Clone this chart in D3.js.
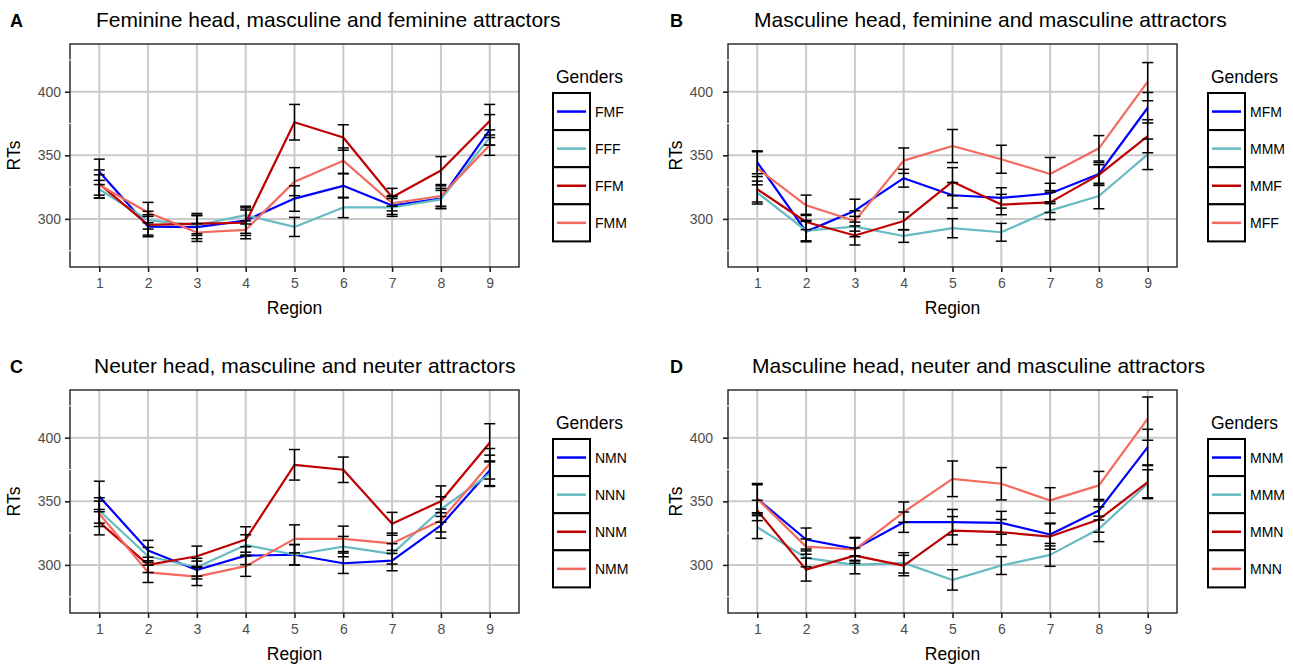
<!DOCTYPE html>
<html><head><meta charset="utf-8">
<script src="https://cdn.jsdelivr.net/npm/d3@7"></script>
<style>body{margin:0;background:#fff;} svg{font-family:"Liberation Sans",Arial,sans-serif;}</style>
</head><body><svg id="c" width="1293" height="665"></svg>
<script>
// ---------- data ----------
const regions = [1, 2, 3, 4, 5, 6, 7, 8, 9];
const yTicks = [300, 350, 400];
const yMinor = [275, 325, 375, 425];
const seriesColors = ["#0000FF", "#66BBC2", "#C00000", "#F4695E"];

// Panel A
const aTitle = "Feminine head, masculine and feminine attractors";
const aNames = ["FMF", "FFF", "FFM", "FMM"];
const aFMF = [337, 294, 293.5, 298.7, 316, 326, 310.5, 316, 370];
const aFFF = [323.3, 299, 295, 303, 293.7, 309, 309, 315.4, 364];
const aFFM = [327.5, 295.3, 296.3, 297, 376, 364, 317, 338, 377];
const aFMM = [326.7, 305, 289.3, 291.4, 329.3, 345.8, 312.3, 318, 358];
const aFMF_se = [10, 8, 9, 10, 10, 9.5, 7, 8, 12];
const aFFF_se = [7, 7, 8, 7, 7.5, 8, 7, 7, 6];
const aFFM_se = [11, 8, 8, 10, 14, 10, 7, 11, 13];
const aFMM_se = [8, 8, 7, 7, 11, 10, 6, 8, 8];

// Panel B
const bTitle = "Masculine head, feminine and masculine attractors";
const bNames = ["MFM", "MMM", "MMF", "MFF"];
const bMFM = [344.5, 290, 306.5, 332, 318.6, 316.5, 320, 335.3, 387.4];
const bMMM = [320.7, 290.8, 294, 286.6, 292.7, 289.5, 306.5, 318, 350.8];
const bMMF = [323.3, 297.6, 287, 298.4, 329.3, 311.3, 313, 334.6, 365];
const bMFF = [339.8, 310.7, 298.4, 345.8, 357.3, 346.9, 335.3, 355.5, 407.9];
const bMFM_se = [9, 8, 9, 7, 10, 8, 8, 9, 12];
const bMMM_se = [9, 8, 8, 5, 7.5, 7, 7, 10, 12];
const bMMF_se = [10, 6, 7.5, 7, 11, 8, 8, 8, 13];
const bMFF_se = [13, 8, 8, 10, 13, 11, 13, 10, 15];

// Panel C
const cTitle = "Neuter head, masculine and neuter attractors";
const cNames = ["NMN", "NNN", "NNM", "NMM"];
const cNMN = [353.8, 311.3, 296, 307.3, 308, 301.3, 303.4, 331, 374.3];
const cNNN = [342.8, 306.8, 298.2, 315.7, 308, 314.4, 308.7, 343.6, 371.7];
const cNNM = [333.6, 300, 306.8, 320, 378.7, 374.8, 332.3, 350.1, 396];
const cNMM = [340.2, 294.2, 290.8, 299, 320.5, 320.5, 317, 334.9, 379.5];
const cNMN_se = [12, 8, 7, 7, 8, 8, 8, 10, 12];
const cNNN_se = [10, 7, 7, 8, 8, 8, 8, 10, 10];
const cNNM_se = [10, 6, 8, 10, 12, 10, 9, 12, 15];
const cNMM_se = [10, 8, 7, 8, 11, 10, 8, 9, 12];

// Panel D
const dTitle = "Masculine head, neuter and masculine attractors";
const dNames = ["MNM", "MMM", "MMN", "MNN"];
const dMNM = [352, 320, 312.6, 333.6, 333.6, 333.1, 323.9, 342.8, 392.6];
const dMMM = [329.7, 305.5, 300, 301.6, 288.2, 299.5, 307.9, 328.3, 363.8];
const dMMN = [342.8, 296.3, 307.3, 299.5, 327, 325.7, 322.3, 335.7, 365.1];
const dMNN = [352, 314.4, 312.1, 341.5, 367.7, 363.8, 350.7, 362.5, 415];
const dMNM_se = [12, 9, 9, 8, 10, 9, 9, 7.5, 14];
const dMMM_se = [9, 7, 7, 8, 8, 7, 9, 10, 11];
const dMMN_se = [8, 9, 6, 8, 11, 10, 10, 10, 13];
const dMNN_se = [11, 6, 9, 8, 14, 12.7, 10, 11, 17];

// ---------- layout ----------
const panels = [
  {label: "A", title: aTitle, names: aNames, values: [aFMF, aFFF, aFFM, aFMM], errs: [aFMF_se, aFFF_se, aFFM_se, aFMM_se],
   x0: 70, y0: 44, labelX: 10, titleX: 96, yLabEnd: 56, rtsX: 20, legX: 553},
  {label: "B", title: bTitle, names: bNames, values: [bMFM, bMMM, bMMF, bMFF], errs: [bMFM_se, bMMM_se, bMMF_se, bMFF_se],
   x0: 728, y0: 44, labelX: 670, titleX: 754, yLabEnd: 708, rtsX: 682, legX: 1208},
  {label: "C", title: cTitle, names: cNames, values: [cNMN, cNNN, cNNM, cNMM], errs: [cNMN_se, cNNN_se, cNNM_se, cNMM_se],
   x0: 70, y0: 390, labelX: 10, titleX: 94, yLabEnd: 56, rtsX: 20, legX: 553},
  {label: "D", title: dTitle, names: dNames, values: [dMNM, dMMM, dMMN, dMNN], errs: [dMNM_se, dMMM_se, dMMN_se, dMNN_se],
   x0: 728, y0: 390, labelX: 670, titleX: 752, yLabEnd: 708, rtsX: 682, legX: 1208}
];
const W = 449, H = 223;

const svg = d3.select("#c");

panels.forEach(p => {
  const g = svg.append("g");
  const x = d3.scaleLinear().domain([0.4, 9.6]).range([p.x0, p.x0 + W]);
  const y = d3.scaleLinear().domain([262.2, 437.5]).range([p.y0 + H, p.y0]);

  // label + title
  g.append("text").attr("x", p.labelX).attr("y", p.y0 - 17.3).attr("font-size", 18).attr("font-weight", "bold").text(p.label);
  g.append("text").attr("x", p.titleX).attr("y", p.y0 - 17.3).attr("font-size", 21).text(p.title);

  // grid
  const grid = g.append("g");
  grid.selectAll(".gy").data(yTicks).join("line")
    .attr("x1", p.x0).attr("x2", p.x0 + W).attr("y1", d => y(d)).attr("y2", d => y(d))
    .attr("stroke", "#CBCBCB").attr("stroke-width", 2);
  grid.selectAll(".gx").data(regions).join("line")
    .attr("y1", p.y0).attr("y2", p.y0 + H).attr("x1", d => x(d)).attr("x2", d => x(d))
    .attr("stroke", "#CBCBCB").attr("stroke-width", 2);

  // border
  g.append("rect").attr("x", p.x0).attr("y", p.y0).attr("width", W).attr("height", H)
    .attr("fill", "none").attr("stroke", "#222").attr("stroke-width", 1.4);
  // minor white marks on left axis
  g.selectAll(".mn").data(yMinor).join("line")
    .attr("x1", p.x0 - 1).attr("x2", p.x0 + 1).attr("y1", d => y(d)).attr("y2", d => y(d))
    .attr("stroke", "#fff").attr("stroke-width", 1);

  // axes
  const xAxis = d3.axisBottom(x).tickValues(regions).tickSize(5).tickPadding(6).tickFormat(d3.format("d"));
  const xa = g.append("g").attr("transform", `translate(0,${p.y0 + H})`).call(xAxis);
  xa.select(".domain").remove();
  xa.selectAll("line").attr("stroke", "#222").attr("stroke-width", 1.6);
  xa.selectAll("text").attr("font-size", 14).attr("fill", "#4D4D4D").attr("font-family", "Liberation Sans, Arial, sans-serif");

  const yAxis = d3.axisLeft(y).tickValues(yTicks).tickSize(5).tickPadding(p.x0 - 5 - p.yLabEnd - 5);
  const ya = g.append("g").attr("transform", `translate(${p.x0},0)`).call(yAxis);
  ya.select(".domain").remove();
  ya.selectAll("line").attr("stroke", "#222").attr("stroke-width", 1.6);
  ya.selectAll("text").attr("font-size", 14).attr("fill", "#4D4D4D").attr("font-family", "Liberation Sans, Arial, sans-serif");

  g.append("text").attr("x", p.x0 + W / 2).attr("y", p.y0 + H + 47).attr("text-anchor", "middle").attr("font-size", 17.5).text("Region");
  g.append("text").attr("transform", `translate(${p.rtsX},${p.y0 + H / 2}) rotate(-90)`).attr("text-anchor", "middle").attr("font-size", 17.5).text("RTs");

  // lines
  const line = d3.line().x((d, i) => x(regions[i])).y(d => y(d));
  p.values.forEach((vals, si) => {
    g.append("path").datum(vals).attr("d", line).attr("fill", "none")
      .attr("stroke", seriesColors[si]).attr("stroke-width", 2.2).attr("stroke-linejoin", "round");
  });
  // error bars
  const eb = g.append("g").attr("stroke", "#000").attr("stroke-width", 1.5);
  const cap = 5.5;
  p.values.forEach((vals, si) => {
    vals.forEach((v, i) => {
      const e = p.errs[si][i], cx = x(regions[i]);
      eb.append("line").attr("x1", cx).attr("x2", cx).attr("y1", y(v - e)).attr("y2", y(v + e));
      eb.append("line").attr("x1", cx - cap).attr("x2", cx + cap).attr("y1", y(v - e)).attr("y2", y(v - e));
      eb.append("line").attr("x1", cx - cap).attr("x2", cx + cap).attr("y1", y(v + e)).attr("y2", y(v + e));
    });
  });

  // legend
  const lg = g.append("g");
  const ly = p.y0 + 49, kh = 37.1, kw = 37;
  lg.append("text").attr("x", p.legX + 3).attr("y", p.y0 + 38.7).attr("font-size", 17.5).text("Genders");
  p.names.forEach((n, i) => {
    const ky = ly + i * kh;
    lg.append("rect").attr("x", p.legX).attr("y", ky).attr("width", kw).attr("height", kh)
      .attr("fill", "#fff").attr("stroke", "#000").attr("stroke-width", 2);
    lg.append("line").attr("x1", p.legX + 4).attr("x2", p.legX + kw - 4).attr("y1", ky + kh / 2).attr("y2", ky + kh / 2)
      .attr("stroke", seriesColors[i]).attr("stroke-width", 2.5);
    lg.append("text").attr("x", p.legX + kw + 5).attr("y", ky + kh / 2 + 5).attr("font-size", 14).text(n);
  });
});
</script></body></html>
